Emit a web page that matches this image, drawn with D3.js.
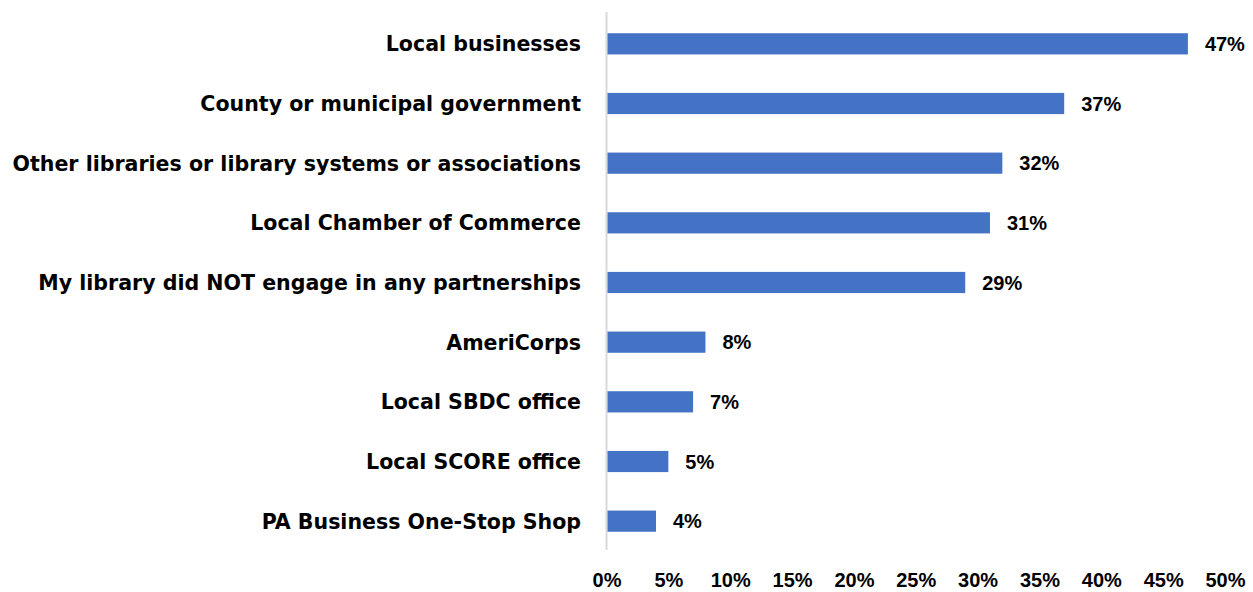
<!DOCTYPE html>
<html>
<head>
<meta charset="utf-8">
<script src="https://cdn.jsdelivr.net/npm/d3@7"></script>
<style>
  html, body { margin: 0; padding: 0; background: #ffffff; }
  svg { display: block; }
</style>
</head>
<body>
<svg id="chart" width="1253" height="592"></svg>
<script>
// Partnership types and share of libraries (percent)
const categories = [
  "Local businesses",
  "County or municipal government",
  "Other libraries or library systems or associations",
  "Local Chamber of Commerce",
  "My library did NOT engage in any partnerships",
  "AmeriCorps",
  "Local SBDC office",
  "Local SCORE office",
  "PA Business One-Stop Shop"
];
const values = [47, 37, 32, 31, 29, 8, 7, 5, 4];
const tickValues = [0, 5, 10, 15, 20, 25, 30, 35, 40, 45, 50];

const svg = d3.select("#chart");

const x = d3.scaleLinear().domain([0, 50]).range([606.5, 1225]);
const y = d3.scaleBand().domain(categories).range([14, 551]).paddingInner(0.645).paddingOuter(0.3225);

// vertical baseline
svg.append("line")
  .attr("x1", x(0)).attr("x2", x(0))
  .attr("y1", 12).attr("y2", 550)
  .attr("stroke", "#d9d9d9").attr("stroke-width", 2);

// bars
svg.selectAll("rect.bar")
  .data(values)
  .join("rect")
  .attr("class", "bar")
  .attr("x", x(0) + 1)
  .attr("y", (d, i) => y(categories[i]))
  .attr("width", d => x(d) - x(0) - 1)
  .attr("height", y.bandwidth())
  .attr("fill", "#4472C4");

// value labels
svg.selectAll("text.val")
  .data(values)
  .join("text")
  .attr("class", "val")
  .attr("x", d => x(d) + 17)
  .attr("y", (d, i) => y(categories[i]) + y.bandwidth() / 2)
  .attr("dy", "0.36em")
  .attr("font-family", "'Liberation Sans', Arial, sans-serif")
  .attr("font-weight", "bold")
  .attr("font-size", 20)
  .attr("fill", "#000")
  .text(d => d + "%");

// category labels
const catLabels = svg.selectAll("text.cat")
  .data(categories)
  .join("text")
  .attr("class", "cat")
  .attr("x", 581)
  .attr("y", d => y(d) + y.bandwidth() / 2)
  .attr("dy", "0.36em")
  .attr("text-anchor", "end")
  .attr("font-family", "'DejaVu Sans', sans-serif")
  .attr("font-weight", "bold")
  .attr("font-size", 20)
  .attr("fill", "#000")
  .text(d => d);

// size the category font so the longest label spans the left margin
const widest = d3.max(catLabels.nodes(), n => n.getComputedTextLength());
const catSize = Math.min(22, 20 * 569 / widest);
catLabels.attr("font-size", catSize);

// x axis tick labels
const axis = d3.axisBottom(x)
  .tickValues(tickValues)
  .tickSize(0)
  .tickPadding(0)
  .tickFormat(d => d + "%");

const gAxis = svg.append("g")
  .attr("transform", "translate(0,573)")
  .call(axis);
gAxis.select(".domain").remove();
gAxis.selectAll("text")
  .attr("font-family", "'Liberation Sans', Arial, sans-serif")
  .attr("font-weight", "bold")
  .attr("font-size", 20)
  .attr("fill", "#000");
</script>
</body>
</html>
